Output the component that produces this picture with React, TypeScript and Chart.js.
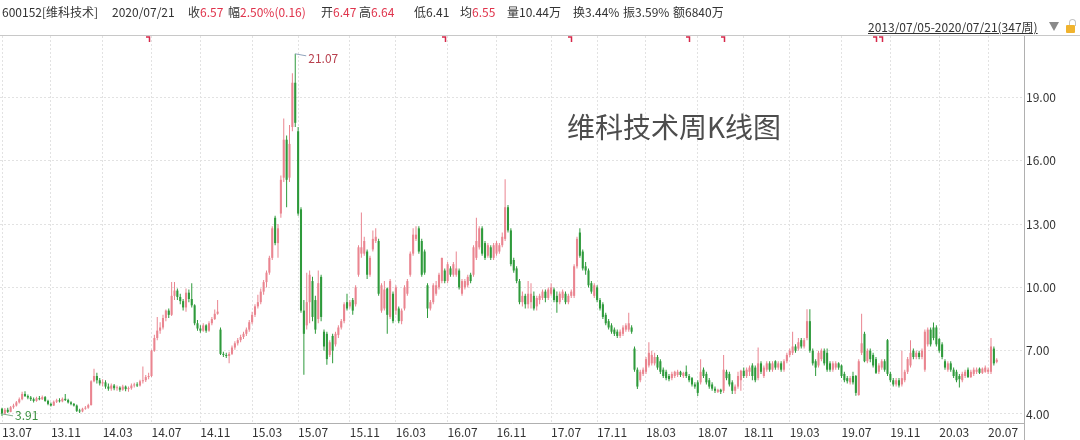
import React, { useEffect, useRef } from 'react';
import { Chart, registerables } from 'chart.js';

Chart.register(...registerables);

const FONT = '"Noto Sans CJK SC", "Noto Sans", "DejaVu Sans", sans-serif';

// Weekly OHLC, 2013/07/05 - 2020/07/21 (347 weeks), index = week number
const weekOpen = [
  4.25, 4.02, 4.20, 4.10, 4.32, 4.40, 4.55, 4.70, 4.95, 4.85,
  4.78, 4.70, 4.62, 4.75, 4.70, 4.80, 4.62, 4.48, 4.40, 4.58,
  4.65, 4.60, 4.72, 4.66, 4.55, 4.48, 4.40, 4.15, 4.12, 4.25,
  4.30, 4.42, 5.55, 5.80, 5.60, 5.45, 5.50, 5.30, 5.20, 5.35,
  5.22, 5.25, 5.15, 5.30, 5.18, 5.22, 5.35, 5.40, 5.35, 5.55,
  5.60, 5.75, 5.80, 7.00, 7.60, 7.95, 8.10, 8.55, 8.90, 8.70,
  9.60, 9.85, 9.55, 9.35, 9.05, 9.75, 9.45, 9.15, 8.30, 8.05,
  7.95, 8.20, 7.95, 8.30, 8.50, 8.75, 8.00, 6.85, 6.80, 6.75,
  6.85, 7.15, 7.35, 7.50, 7.65, 7.80, 8.00, 8.35, 8.70, 9.10,
  9.30, 9.80, 10.25, 10.70, 11.40, 13.30, 12.10, 13.50, 15.20, 17.00,
  15.20, 17.60, 19.70, 17.40, 13.70, 8.90, 8.20, 9.30, 10.30, 9.40,
  8.50, 10.50, 7.90, 7.80, 6.80, 7.70, 7.30, 7.75, 8.10, 8.40,
  9.30, 9.10, 9.40, 9.20, 10.60, 11.60, 11.60, 11.70, 10.60, 11.80,
  12.20, 12.20, 8.90, 9.00, 9.95, 8.60, 9.70, 8.90, 9.00, 8.40,
  9.00, 9.70, 10.60, 11.60, 12.30, 12.80, 12.20, 11.70, 10.10, 9.00,
  9.30, 9.70, 10.00, 10.30, 10.80, 10.30, 10.90, 10.60, 10.60, 10.80,
  9.70, 10.00, 10.10, 10.60, 10.60, 11.40, 11.90, 12.80, 12.10, 11.50,
  11.90, 11.40, 11.60, 11.70, 12.00, 12.30, 13.80, 12.70, 11.30, 10.90,
  10.30, 9.30, 9.60, 9.20, 9.30, 9.60, 9.10, 9.40, 9.50, 9.80,
  9.50, 9.70, 9.90, 9.60, 9.30, 9.50, 9.70, 9.30, 9.60, 9.60,
  11.00, 12.60, 11.70, 11.00, 10.80, 10.20, 9.60, 10.00, 9.40, 9.20,
  8.70, 8.40, 8.20, 8.00, 7.90, 7.70, 7.80, 8.00, 8.00, 8.10,
  7.10, 6.10, 5.60, 5.90, 6.00, 6.30, 6.40, 6.40, 6.70, 6.50,
  6.10, 6.00, 5.80, 5.70, 5.80, 5.85, 6.00, 5.80, 6.00, 5.80,
  5.70, 5.40, 5.50, 5.50, 6.10, 5.90, 5.60, 5.40, 5.20, 5.05,
  5.15, 5.10, 6.00, 5.90, 5.50, 5.10, 5.30, 5.60, 6.05, 5.80,
  6.00, 6.30, 6.20, 5.70, 6.40, 5.80, 6.10, 6.40, 6.10, 6.50,
  6.20, 6.40, 6.10, 6.50, 6.80, 6.90, 7.20, 7.10, 7.50, 7.20,
  7.60, 8.40, 7.00, 6.50, 6.30, 6.60, 7.00, 6.90, 6.40, 6.10,
  6.20, 6.40, 6.30, 5.90, 5.70, 5.50, 5.80, 5.80, 4.90, 6.90,
  7.80, 6.50, 7.00, 6.80, 6.60, 6.00, 6.20, 6.50, 7.50, 5.90,
  5.60, 5.40, 5.60, 5.40, 5.60, 6.00, 6.30, 7.00, 6.70, 6.90,
  6.70, 6.10, 7.30, 8.00, 8.10, 8.10, 7.55, 7.30, 6.50, 6.10,
  6.40, 6.10, 6.00, 5.80, 5.60, 5.80, 6.10, 5.75, 5.90, 6.00,
  6.15, 5.95, 6.00, 6.00, 6.00, 7.10, 6.47,
];

const weekHigh = [
  4.30, 4.28, 4.30, 4.38, 4.48, 4.62, 4.78, 5.05, 5.08, 4.92,
  4.85, 4.78, 4.82, 4.85, 4.88, 4.85, 4.68, 4.55, 4.64, 4.72,
  4.75, 4.78, 4.95, 4.72, 4.60, 4.52, 4.45, 4.25, 4.30, 4.38,
  4.48, 5.60, 6.15, 5.95, 5.70, 5.65, 5.60, 5.45, 5.45, 5.42,
  5.35, 5.32, 5.38, 5.35, 5.30, 5.45, 5.48, 5.50, 5.62, 6.25,
  5.85, 5.95, 7.05, 7.75, 8.60, 8.35, 8.70, 8.95, 9.00, 10.25,
  10.25, 9.95, 9.70, 9.45, 9.95, 9.90, 10.20, 9.20, 8.45, 8.20,
  8.30, 8.25, 8.40, 8.60, 8.95, 9.40, 8.10, 6.95, 6.90, 6.95,
  7.25, 7.45, 7.60, 7.75, 7.90, 8.10, 8.45, 8.85, 9.20, 9.65,
  9.95, 10.35, 10.80, 11.50, 12.90, 13.40, 13.00, 15.30, 18.00, 17.20,
  17.70, 20.15, 21.07, 17.60, 13.80, 9.40, 10.70, 10.80, 10.50, 9.60,
  10.80, 10.60, 8.00, 7.90, 7.50, 7.80, 7.90, 8.20, 8.50, 9.30,
  9.70, 9.40, 9.50, 10.10, 12.00, 13.55, 12.40, 11.80, 11.50, 12.70,
  12.80, 12.30, 10.20, 10.30, 10.00, 10.40, 9.80, 10.10, 9.10, 9.00,
  10.10, 10.40, 11.70, 12.80, 12.90, 12.90, 12.30, 11.80, 10.20, 9.40,
  10.20, 10.30, 10.70, 11.40, 10.90, 11.20, 11.00, 11.20, 11.70, 10.90,
  10.40, 10.40, 10.60, 10.70, 12.00, 13.30, 12.90, 12.90, 12.20, 12.10,
  12.00, 12.10, 12.20, 12.10, 12.60, 15.13, 13.90, 12.80, 11.40, 11.00,
  10.40, 9.80, 9.70, 10.30, 10.20, 9.80, 9.60, 9.70, 9.90, 9.90,
  10.00, 10.20, 10.00, 9.80, 9.80, 9.90, 9.80, 9.70, 9.90, 11.10,
  12.40, 12.80, 11.80, 11.20, 10.90, 10.30, 10.20, 10.10, 9.50, 9.30,
  8.80, 8.50, 8.30, 8.10, 8.00, 8.00, 8.20, 8.30, 8.80, 8.20,
  7.20, 6.20, 6.10, 6.20, 6.70, 7.40, 7.00, 6.90, 6.80, 6.60,
  6.20, 6.10, 5.90, 6.00, 6.05, 6.10, 6.05, 6.00, 6.30, 5.90,
  5.75, 5.50, 5.60, 6.60, 6.20, 6.00, 5.70, 5.50, 5.30, 5.20,
  5.20, 6.80, 6.10, 6.00, 5.60, 5.40, 6.00, 6.10, 6.20, 6.20,
  6.30, 6.40, 6.30, 7.15, 6.50, 6.30, 6.50, 6.50, 6.50, 6.55,
  6.50, 6.50, 6.60, 6.90, 7.10, 7.90, 7.30, 7.60, 7.60, 7.60,
  8.97, 8.97, 7.10, 6.60, 7.00, 7.10, 7.10, 7.10, 6.50, 6.50,
  6.50, 6.45, 6.35, 6.00, 5.80, 5.80, 6.00, 5.85, 6.60, 8.75,
  7.90, 7.10, 7.10, 6.90, 6.70, 6.40, 6.60, 6.60, 7.55, 6.00,
  5.70, 5.70, 5.70, 7.00, 6.10, 6.70, 7.50, 7.10, 7.00, 7.00,
  7.10, 8.00, 8.10, 8.10, 8.34, 8.20, 7.60, 7.40, 6.60, 6.50,
  6.50, 6.20, 6.10, 5.90, 6.00, 6.10, 6.20, 6.10, 6.20, 6.20,
  6.20, 6.20, 6.30, 6.20, 7.60, 7.20, 6.64,
];

const weekLow = [
  3.91, 3.98, 4.05, 4.08, 4.25, 4.35, 4.50, 4.65, 4.80, 4.70,
  4.62, 4.55, 4.58, 4.65, 4.66, 4.58, 4.42, 4.35, 4.38, 4.52,
  4.55, 4.56, 4.62, 4.50, 4.42, 4.35, 4.10, 4.05, 4.08, 4.20,
  4.25, 4.40, 5.50, 5.45, 5.35, 5.30, 5.20, 5.10, 5.10, 5.12,
  5.10, 5.05, 5.10, 5.08, 5.05, 5.15, 5.25, 5.28, 5.30, 5.45,
  5.52, 5.65, 5.75, 6.95, 7.50, 7.80, 8.00, 8.40, 8.55, 8.65,
  9.40, 9.40, 9.20, 8.90, 8.85, 9.30, 9.05, 8.20, 7.95, 7.85,
  7.90, 7.85, 7.90, 8.20, 8.45, 8.70, 6.80, 6.70, 6.65, 6.40,
  6.80, 7.05, 7.25, 7.40, 7.55, 7.70, 7.90, 8.25, 8.60, 9.00,
  9.20, 9.65, 10.00, 10.60, 11.30, 12.00, 11.40, 13.30, 15.00, 13.80,
  15.00, 17.40, 17.60, 13.40, 8.80, 5.86, 8.00, 8.30, 8.40, 7.80,
  8.30, 8.40, 7.00, 6.33, 6.70, 6.40, 7.20, 7.60, 8.00, 8.30,
  8.90, 9.00, 8.70, 9.10, 10.50, 11.40, 11.50, 10.40, 10.50, 11.70,
  12.10, 9.60, 8.80, 8.90, 7.80, 8.50, 8.30, 8.70, 8.30, 8.25,
  8.90, 9.60, 10.50, 11.50, 12.20, 11.60, 10.50, 10.60, 8.55, 8.90,
  9.20, 9.60, 9.90, 10.20, 10.20, 10.20, 10.50, 10.50, 10.50, 9.90,
  9.60, 9.90, 10.00, 10.20, 10.50, 11.30, 11.80, 11.50, 11.30, 11.40,
  11.30, 11.30, 11.50, 11.60, 11.90, 12.20, 12.60, 11.00, 10.70, 10.20,
  9.20, 9.10, 9.00, 9.00, 9.00, 8.90, 8.90, 9.20, 9.40, 9.30,
  9.40, 9.60, 9.30, 8.80, 9.20, 9.40, 9.20, 9.20, 9.50, 9.50,
  10.90, 11.40, 10.80, 10.60, 10.00, 9.70, 9.50, 9.30, 8.90, 8.50,
  8.20, 8.00, 7.80, 7.70, 7.60, 7.60, 7.70, 7.90, 7.90, 7.80,
  6.00, 5.18, 5.50, 5.80, 5.90, 6.20, 6.30, 6.30, 6.10, 5.90,
  5.70, 5.60, 5.55, 5.60, 5.70, 5.75, 5.75, 5.70, 5.70, 5.50,
  5.30, 5.20, 4.85, 5.40, 5.70, 5.40, 5.20, 5.10, 5.00, 5.00,
  4.95, 5.00, 5.60, 5.30, 4.95, 4.95, 5.20, 5.10, 5.70, 5.70,
  5.80, 5.60, 5.50, 5.60, 5.90, 5.70, 6.00, 6.00, 6.00, 6.10,
  6.10, 6.00, 6.00, 6.40, 6.70, 6.80, 6.90, 7.00, 7.10, 7.10,
  7.50, 6.90, 6.30, 5.80, 6.20, 6.50, 6.30, 6.00, 6.00, 6.00,
  6.10, 6.10, 5.70, 5.50, 5.45, 5.40, 5.40, 4.87, 4.87, 6.80,
  6.45, 6.40, 6.45, 6.20, 5.90, 5.90, 6.10, 6.00, 5.80, 5.50,
  5.30, 5.30, 5.25, 5.30, 5.50, 5.90, 6.20, 6.60, 6.60, 6.60,
  6.60, 6.00, 7.20, 7.20, 7.50, 7.20, 6.90, 6.60, 6.10, 6.00,
  6.00, 5.70, 5.50, 5.26, 5.50, 5.70, 5.70, 5.70, 5.80, 5.90,
  5.90, 5.90, 5.95, 5.90, 5.90, 6.30, 6.41,
];

const weekClose = [
  4.02, 4.20, 4.10, 4.32, 4.40, 4.55, 4.70, 4.95, 4.85, 4.78,
  4.70, 4.62, 4.75, 4.70, 4.80, 4.62, 4.48, 4.40, 4.58, 4.65,
  4.60, 4.72, 4.66, 4.55, 4.48, 4.40, 4.15, 4.12, 4.25, 4.30,
  4.42, 5.55, 5.80, 5.60, 5.45, 5.50, 5.30, 5.20, 5.35, 5.22,
  5.25, 5.15, 5.30, 5.18, 5.22, 5.35, 5.40, 5.35, 5.55, 5.60,
  5.75, 5.80, 7.00, 7.60, 7.95, 8.10, 8.55, 8.90, 8.70, 9.60,
  9.85, 9.55, 9.35, 9.05, 9.75, 9.45, 9.15, 8.30, 8.05, 7.95,
  8.20, 7.95, 8.30, 8.50, 8.75, 8.85, 6.85, 6.80, 6.75, 6.85,
  7.15, 7.35, 7.50, 7.65, 7.80, 8.00, 8.35, 8.70, 9.10, 9.30,
  9.80, 10.25, 10.70, 11.40, 12.80, 12.10, 12.80, 15.10, 17.00, 15.10,
  16.80, 19.70, 17.80, 13.50, 8.90, 7.80, 9.30, 10.60, 8.60, 8.00,
  10.20, 8.60, 7.20, 6.60, 7.40, 7.00, 7.80, 8.10, 8.40, 9.20,
  9.00, 9.30, 8.90, 10.00, 11.90, 11.90, 12.20, 10.60, 11.40, 12.30,
  12.40, 9.70, 10.10, 9.90, 8.70, 10.30, 8.40, 10.00, 8.40, 8.90,
  10.00, 10.30, 11.60, 12.50, 12.50, 11.70, 10.60, 10.70, 9.00, 9.30,
  10.10, 10.10, 10.60, 11.40, 10.30, 11.10, 10.60, 11.10, 10.90, 10.00,
  10.30, 10.30, 10.50, 10.30, 11.90, 12.20, 12.80, 11.60, 11.40, 12.00,
  11.40, 12.00, 12.10, 12.00, 12.40, 13.80, 12.70, 11.10, 10.80, 10.30,
  9.30, 9.60, 9.20, 9.70, 9.70, 9.00, 9.50, 9.60, 9.80, 9.50,
  9.90, 10.00, 9.40, 9.30, 9.70, 9.80, 9.30, 9.60, 9.80, 11.00,
  12.30, 11.50, 10.90, 10.80, 10.10, 9.80, 10.10, 9.40, 9.00, 8.60,
  8.30, 8.10, 7.90, 7.80, 7.70, 7.90, 8.10, 8.20, 8.30, 7.90,
  6.10, 5.30, 6.00, 6.10, 6.60, 6.90, 6.80, 6.70, 6.20, 6.00,
  5.80, 5.70, 5.65, 5.90, 6.00, 6.00, 5.85, 5.95, 5.80, 5.60,
  5.40, 5.30, 5.00, 6.00, 5.80, 5.50, 5.30, 5.20, 5.10, 5.15,
  5.05, 6.10, 5.70, 5.40, 5.10, 5.30, 5.80, 6.05, 5.80, 6.10,
  6.20, 5.80, 5.60, 6.40, 6.00, 6.20, 6.40, 6.10, 6.40, 6.20,
  6.40, 6.10, 6.50, 6.80, 7.00, 7.20, 7.00, 7.40, 7.20, 7.50,
  8.40, 7.00, 6.40, 6.20, 6.90, 7.00, 6.40, 6.10, 6.10, 6.40,
  6.40, 6.20, 5.80, 5.60, 5.55, 5.70, 5.50, 5.00, 6.50, 7.35,
  6.50, 7.00, 6.60, 6.30, 5.95, 6.30, 6.50, 6.10, 5.90, 5.60,
  5.40, 5.60, 5.35, 5.70, 6.00, 6.60, 6.90, 6.70, 6.90, 6.70,
  7.00, 7.90, 8.00, 7.30, 7.60, 7.30, 7.00, 6.70, 6.20, 6.40,
  6.10, 5.80, 5.60, 5.65, 5.90, 6.00, 5.75, 6.00, 6.10, 6.10,
  5.95, 6.15, 6.20, 6.10, 7.20, 6.40, 6.57,
];

const monthTickWeeks = [0, 17, 35, 52, 69, 87, 103, 121, 137, 155, 172, 191, 207, 224, 242, 258, 274, 292, 309, 326, 343];
const monthTickLabels = ['13.07', '13.11', '14.03', '14.07', '14.11', '15.03', '15.07', '15.11', '16.03', '16.07', '16.11', '17.07', '17.11', '18.03', '18.07', '18.11', '19.03', '19.07', '19.11', '20.03', '20.07'];
const priceTicks = [4, 7, 10, 13, 16, 19];
const infoMarkWeeks = [51, 154, 198, 239, 251, 304, 306];

const headerFields: [number, string, string, boolean][] = [
  [2, '600152[维科技术]', '', false],
  [112, '2020/07/21', '', false],
  [188, '收', '6.57', true],
  [228, '幅', '2.50%(0.16)', true],
  [321, '开', '6.47', true],
  [359, '高', '6.64', true],
  [414, '低', '6.41', false],
  [460, '均', '6.55', true],
  [507, '量', '10.44万', false],
  [573, '换', '3.44%', false],
  [623, '振', '3.59%', false],
  [673, '额', '6840万', false],
];
const rangeText = '2013/07/05-2020/07/21(347周)';
const chartTitle = '维科技术周K线图';

const UP = '#ea8590';
const DOWN = '#2e9a3b';

const marksPlugin = {
  id: 'klineMarks',
  afterDatasetsDraw(chart: any) {
    const { ctx, chartArea } = chart;
    const xs = chart.scales.x;
    const ys = chart.scales.y;
    let hi = 0;
    let lo = 0;
    weekHigh.forEach((v, i) => { if (v > weekHigh[hi]) hi = i; });
    weekLow.forEach((v, i) => { if (v < weekLow[lo]) lo = i; });
    ctx.save();
    ctx.font = '12px ' + FONT;
    ctx.textAlign = 'left';
    ctx.textBaseline = 'middle';
    ctx.lineWidth = 1;
    const hx = xs.getPixelForValue(hi);
    const hy = ys.getPixelForValue(weekHigh[hi]);
    ctx.strokeStyle = '#90a4bc';
    ctx.beginPath();
    ctx.moveTo(hx, hy);
    ctx.lineTo(hx + 11, hy + 2);
    ctx.stroke();
    ctx.fillStyle = '#b8404e';
    ctx.fillText(weekHigh[hi].toFixed(2), hx + 13, hy + 5);
    const lx = xs.getPixelForValue(lo);
    const ly = ys.getPixelForValue(weekLow[lo]);
    ctx.strokeStyle = '#86b08e';
    ctx.beginPath();
    ctx.moveTo(lx, ly - 2);
    ctx.lineTo(lx + 11, ly);
    ctx.stroke();
    ctx.fillStyle = '#3a9040';
    ctx.fillText(weekLow[lo].toFixed(2), lx + 13, ly);
    ctx.strokeStyle = '#d6284a';
    ctx.lineWidth = 1.5;
    infoMarkWeeks.forEach((w) => {
      const px = Math.round(xs.getPixelForValue(w)) + 0.5;
      const top = chartArea.top + 1;
      ctx.beginPath();
      ctx.moveTo(px - 3.5, top);
      ctx.lineTo(px, top);
      ctx.lineTo(px, top + 5);
      ctx.stroke();
    });
    ctx.restore();
  },
};

export default function App() {
  const ref = useRef<HTMLCanvasElement>(null);
  useEffect(() => {
    document.body.style.margin = '0';
    const colors = weekClose.map((c, i) => (c >= weekOpen[i] ? UP : DOWN));
    const bodies = weekOpen.map((o, i) => ({ x: i, y: [o, weekClose[i]] }));
    const wicks = weekLow.map((l, i) => ({ x: i, y: [l, weekHigh[i]] }));
    const chart = new Chart(ref.current as HTMLCanvasElement, {
      type: 'bar',
      data: {
        datasets: [
          { label: 'body', data: bodies as any, backgroundColor: colors, borderWidth: 0, grouped: false, maxBarThickness: 2.5, minBarLength: 1 } as any,
          { label: 'wick', data: wicks as any, backgroundColor: colors, borderWidth: 0, grouped: false, maxBarThickness: 1 } as any,
        ],
      },
      options: {
        animation: false,
        responsive: false,
        maintainAspectRatio: false,
        layout: { padding: { top: 36, left: 0, right: 0, bottom: 0 } },
        plugins: { legend: { display: false }, tooltip: { enabled: false }, title: { display: false } },
        scales: {
          x: {
            type: 'linear',
            min: -0.696,
            max: 355.48,
            offset: false,
            grid: { color: '#e2e2e2', lineWidth: 1, drawTicks: false, offset: false },
            border: { display: true, color: '#b0b0b0', dash: [2, 2] },
            ticks: {
              autoSkip: false,
              maxRotation: 0,
              minRotation: 0,
              align: 'start',
              padding: 2,
              color: '#333',
              font: { size: 12, family: FONT },
              callback: (v: any) => {
                const k = monthTickWeeks.indexOf(Number(v));
                return k >= 0 ? monthTickLabels[k] : '';
              },
            },
            afterBuildTicks: (s: any) => { s.ticks = monthTickWeeks.map((v) => ({ value: v })); },
            afterFit: (s: any) => { s.height = 17; },
          } as any,
          y: {
            type: 'linear',
            position: 'right',
            min: 3.573,
            max: 21.915,
            grid: { color: '#e2e2e2', lineWidth: 1, drawTicks: false },
            border: { display: true, color: '#b0b0b0', dash: [2, 2] },
            ticks: {
              padding: 2,
              color: '#333',
              font: { size: 12, family: FONT },
              callback: (v: any) => Number(v).toFixed(2),
            },
            afterBuildTicks: (s: any) => { s.ticks = priceTicks.map((v) => ({ value: v })); },
            afterFit: (s: any) => { s.width = 56; },
          } as any,
        },
      },
      plugins: [marksPlugin],
    });
    return () => chart.destroy();
  }, []);

  return (
    <div style={{ position: 'fixed', left: 0, top: 0, width: 1080, height: 440, background: '#fff', overflow: 'hidden', fontFamily: FONT }}>
      <canvas ref={ref} width={1080} height={440} style={{ position: 'absolute', left: 0, top: 0, width: 1080, height: 440 }} />
      {headerFields.map(([left, label, value, red]) => (
        <div key={left} style={{ position: 'absolute', left, top: 4, fontSize: 12, lineHeight: '16px', color: '#333', whiteSpace: 'nowrap' }}>
          {label}
          {value ? <span style={{ color: red ? '#e0344c' : '#333' }}>{value}</span> : null}
        </div>
      ))}
      <div style={{ position: 'absolute', left: 0, top: 35, width: 1080, height: 1, background: '#c8c8c8' }} />
      <div style={{ position: 'absolute', left: 868, top: 19, fontSize: 12, lineHeight: '16px', color: '#333', textDecoration: 'underline', whiteSpace: 'nowrap' }}>{rangeText}</div>
      <div style={{ position: 'absolute', left: 1049, top: 22, width: 0, height: 0, borderLeft: '5px solid transparent', borderRight: '5px solid transparent', borderTop: '9px solid #8a8a8a' }} />
      <div style={{ position: 'absolute', left: 1069, top: 19, width: 5, height: 6, border: '1.5px solid #c4c4c4', borderBottom: 'none', borderRadius: '4px 4px 0 0' }} />
      <div style={{ position: 'absolute', left: 1066, top: 25, width: 9, height: 8, background: '#f0b32e', borderRadius: 1 }} />
      <div style={{ position: 'absolute', left: 1024, top: 423, width: 1, height: 17, background: '#b0b0b0' }} />
      <div style={{ position: 'absolute', left: 567, top: 112, fontSize: 28, lineHeight: '28px', color: '#4d4d4d', whiteSpace: 'nowrap' }}>{chartTitle}</div>
    </div>
  );
}
